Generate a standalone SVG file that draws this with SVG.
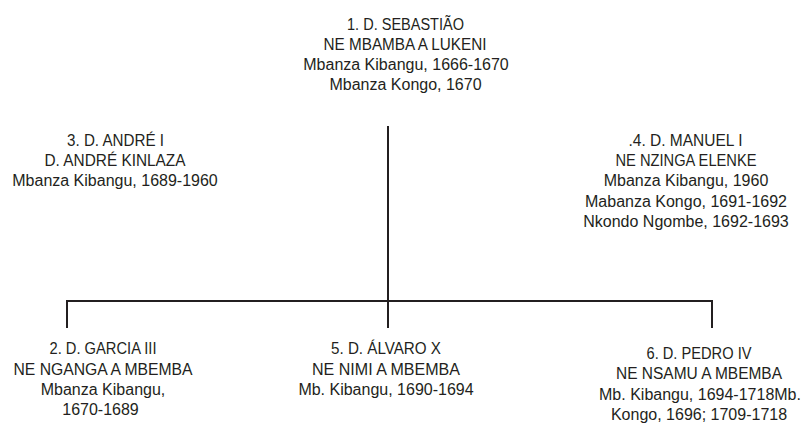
<svg xmlns="http://www.w3.org/2000/svg" width="807" height="430" viewBox="0 0 807 430">
<style>
text{font-family:"Liberation Sans",Arial,sans-serif;font-size:16px;fill:#231f20;text-anchor:middle}
.line{stroke:#231f20;stroke-width:2;fill:none;stroke-linecap:square}
</style>
<rect width="807" height="430" fill="#fff"/>
<g id="connectors">
<path class="line" d="M388 127V327"/>
<path class="line" d="M67 327V301H712V327"/>
</g>
<g id="node1">
<text x="405.5" y="29.5" textLength="117" lengthAdjust="spacingAndGlyphs">1. D. SEBASTIÃO</text>
<text x="405" y="49.5" textLength="163" lengthAdjust="spacingAndGlyphs">NE MBAMBA A LUKENI</text>
<text x="406" y="69.5">Mbanza Kibangu, 1666-1670</text>
<text x="405.5" y="90">Mbanza Kongo, 1670</text>
</g>
<g id="node3">
<text x="115.5" y="145.5" textLength="97" lengthAdjust="spacingAndGlyphs">3. D. ANDRÉ I</text>
<text x="115" y="165.5" textLength="141" lengthAdjust="spacingAndGlyphs">D. ANDRÉ KINLAZA</text>
<text x="115" y="186">Mbanza Kibangu, 1689-1960</text>
</g>
<g id="node4">
<text x="685.5" y="146" textLength="114" lengthAdjust="spacingAndGlyphs">.4. D. MANUEL I</text>
<text x="686" y="166" textLength="141" lengthAdjust="spacingAndGlyphs">NE NZINGA ELENKE</text>
<text x="686" y="186">Mbanza Kibangu, 1960</text>
<text x="686" y="206.5">Mabanza Kongo, 1691-1692</text>
<text x="686" y="227">Nkondo Ngombe, 1692-1693</text>
</g>
<g id="node2">
<text x="103" y="354" textLength="107" lengthAdjust="spacingAndGlyphs">2. D. GARCIA III</text>
<text x="103" y="374.5" textLength="179" lengthAdjust="spacingAndGlyphs">NE NGANGA A MBEMBA</text>
<text x="103" y="394.5">Mbanza Kibangu,</text>
<text x="100.5" y="414.5">1670-1689</text>
</g>
<g id="node5">
<text x="386" y="354" textLength="110" lengthAdjust="spacingAndGlyphs">5. D. ÁLVARO X</text>
<text x="386" y="374.5" textLength="148" lengthAdjust="spacingAndGlyphs">NE NIMI A MBEMBA</text>
<text x="386" y="394.5">Mb. Kibangu, 1690-1694</text>
</g>
<g id="node6">
<text x="699" y="358.5" textLength="105" lengthAdjust="spacingAndGlyphs">6. D. PEDRO IV</text>
<text x="699" y="379" textLength="166" lengthAdjust="spacingAndGlyphs">NE NSAMU A MBEMBA</text>
<text x="700" y="399.5">Mb. Kibangu, 1694-1718Mb.</text>
<text x="699" y="420">Kongo, 1696; 1709-1718</text>
</g>
</svg>
